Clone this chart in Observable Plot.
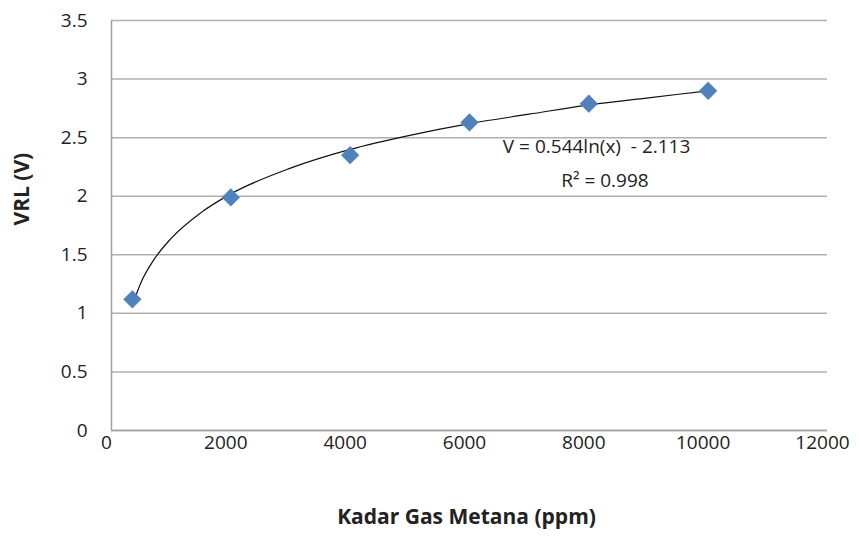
<!DOCTYPE html>
<html>
<head>
<meta charset="utf-8">
<script src="https://cdn.jsdelivr.net/npm/d3@7"></script>
<script src="https://cdn.jsdelivr.net/npm/@observablehq/plot@0.6"></script>
<style>
  html, body { margin: 0; padding: 0; background: #fff; }
  #chart svg { display: block; }
</style>
</head>
<body>
<div id="chart"></div>
<script>
// Measured points
const ppm = [350, 2000, 4000, 6000, 8000, 10000];
const vrl = [1.12, 1.99, 2.35, 2.63, 2.79, 2.90];

// Trendline
const trendX = [350, 500, 700, 1000, 1500, 2000, 3000, 4000, 5000, 6000, 7000, 8000, 9000, 10000];
const trendY = [1.07, 1.27, 1.45, 1.64, 1.86, 2.02, 2.24, 2.40, 2.52, 2.62, 2.70, 2.78, 2.84, 2.90];

const xTicks = [0, 2000, 4000, 6000, 8000, 10000, 12000];
const yTicks = [0, 0.5, 1, 1.5, 2, 2.5, 3, 3.5];

const eqLines = ["V = 0.544ln(x)  - 2.113", "R² = 0.998"];
const eqX = [8130, 8270];
const eqY = [2.42, 2.13];

const points = ppm.map((x, i) => ({x, y: vrl[i]}));
const trend = trendX.map((x, i) => ({x, y: trendY[i]}));
const eq = eqLines.map((t, i) => ({t, x: eqX[i], y: eqY[i]}));

const font = "'Open Sans', sans-serif";

const chart = Plot.plot({
  width: 859,
  height: 539,
  marginLeft: 111,
  marginRight: 32,
  marginTop: 20,
  marginBottom: 109,
  style: {fontFamily: font, fontSize: "16px", color: "#222", background: "#fff"},
  x: {domain: [0, 12000], ticks: xTicks},
  y: {domain: [0, 3.5], ticks: yTicks},
  marks: [
    Plot.gridY(yTicks, {stroke: "#b0b0b0", strokeOpacity: 1, strokeWidth: 1.5}),
    Plot.ruleX([0], {stroke: "#a0a0a0", strokeWidth: 1.5}),
    Plot.ruleY([0], {stroke: "#a0a0a0", strokeWidth: 1.5}),
    Plot.axisY(yTicks, {tickSize: 0, tickPadding: 24, tickFormat: d => String(d), fontSize: 19, fill: "#222", label: null}),
    Plot.axisX(xTicks, {tickSize: 0, tickPadding: 5, dx: -5, tickFormat: d => String(d), fontSize: 19, fill: "#222", label: null}),
    Plot.line(trend, {x: "x", y: "y", stroke: "#111", strokeWidth: 1.2, curve: "monotone-x"}),
    Plot.dot(points, {x: "x", y: "y", symbol: "diamond2", r: 8, fill: "#4f81bd", stroke: "#4f81bd", strokeWidth: 0.5}),
    Plot.text(eq, {x: "x", y: "y", text: "t", fontSize: 19, fill: "#222", fontFamily: font, style: "white-space: pre", xmlSpace: "preserve"}),
    Plot.text(["Kadar Gas Metana (ppm)"], {frameAnchor: "bottom", dx: -3, dy: 93, text: d => d, fontWeight: "bold", fontSize: 21, fill: "#222"}),
    Plot.text(["VRL (V)"], {frameAnchor: "left", dx: -89, rotate: -90, text: d => d, fontWeight: "bold", fontSize: 21, fill: "#222"})
  ]
});
chart.querySelectorAll("text").forEach(t => t.setAttribute("xml:space", "preserve"));
document.getElementById("chart").appendChild(chart);
</script>
</body>
</html>
